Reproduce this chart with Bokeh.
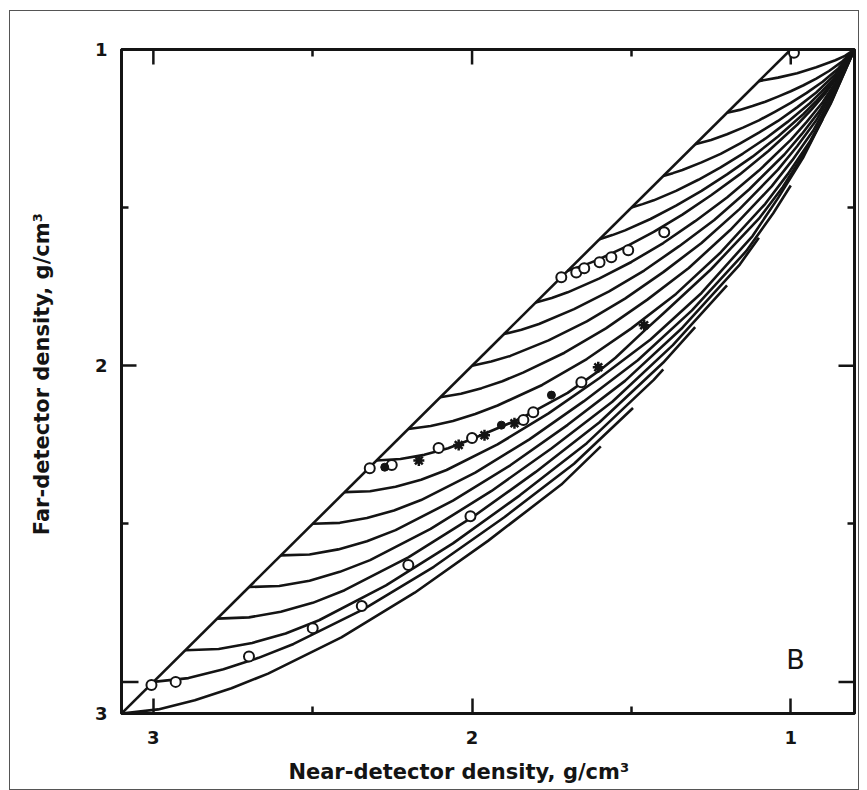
import math
from bokeh.plotting import figure
from bokeh.models import Range1d, LinearAxis, FixedTicker, Label
from bokeh.embed import file_html
from bokeh.resources import INLINE

# ---------------- data: (near-detector density, far-detector density), g/cm3 ----------------
spine_near = [3.1, 1.0]
spine_far = [3.1, 1.0]

# ribs, each starting on the spine at the formation density named in the list name
rib_3_1_near = [3.1, 2.985, 2.87, 2.755, 2.64, 2.41, 2.18, 1.95, 1.72, 1.596]
rib_3_1_far = [3.1, 3.087, 3.058, 3.02, 2.974, 2.859, 2.718, 2.554, 2.376, 2.255]

rib_3_0_near = [3.0, 2.89, 2.78, 2.67, 2.56, 2.34, 2.12, 1.90, 1.68, 1.495]
rib_3_0_far = [3.0, 2.988, 2.96, 2.924, 2.88, 2.77, 2.636, 2.48, 2.31, 2.134]

rib_2_9_near = [2.9, 2.795, 2.69, 2.585, 2.48, 2.27, 2.06, 1.85, 1.64, 1.43, 1.40]
rib_2_9_far = [2.9, 2.896, 2.877, 2.847, 2.805, 2.695, 2.562, 2.41, 2.245, 2.045, 2.012]

rib_2_8_near = [2.8, 2.7, 2.6, 2.5, 2.4, 2.2, 2.0, 1.8, 1.6, 1.4, 1.3]
rib_2_8_far = [2.8, 2.796, 2.778, 2.75, 2.71, 2.606, 2.48, 2.336, 2.179, 1.99, 1.878]

rib_2_7_near = [2.7, 2.605, 2.51, 2.415, 2.32, 2.13, 1.94, 1.75, 1.56, 1.37, 1.2]
rib_2_7_far = [2.7, 2.697, 2.68, 2.652, 2.615, 2.516, 2.397, 2.261, 2.114, 1.935, 1.746]

rib_2_6_near = [2.6, 2.51, 2.42, 2.33, 2.24, 2.06, 1.88, 1.70, 1.52, 1.34, 1.16, 1.1]
rib_2_6_far = [2.6, 2.597, 2.581, 2.555, 2.52, 2.427, 2.315, 2.187, 2.048, 1.88, 1.68, 1.595]

rib_2_5_near = [2.5, 2.415, 2.33, 2.245, 2.16, 1.99, 1.82, 1.65, 1.48, 1.31, 1.14, 1.055, 1.0]
rib_2_5_far = [2.5, 2.497, 2.482, 2.458, 2.425, 2.338, 2.233, 2.113, 1.983, 1.825, 1.638, 1.518, 1.43]

rib_2_4_near = [2.4, 2.32, 2.24, 2.16, 2.08, 1.92, 1.76, 1.60, 1.44, 1.28, 1.12, 1.04, 0.96, 0.9]
rib_2_4_far = [2.4, 2.397, 2.383, 2.361, 2.33, 2.249, 2.151, 2.039, 1.917, 1.77, 1.59, 1.47, 1.34, 1.22]

rib_2_3_near = [2.3, 2.225, 2.15, 2.075, 2.0, 1.85, 1.7, 1.6, 1.55, 1.46, 1.40, 1.25, 1.10,
                1.025, 0.95, 0.875, 0.8]
rib_2_3_far = [2.3, 2.295, 2.282, 2.261, 2.232, 2.168, 2.086, 2.015, 1.975, 1.89, 1.835, 1.695,
               1.535, 1.435, 1.315, 1.172, 1.0]

rib_2_2_near = [2.2, 2.13, 2.06, 1.99, 1.92, 1.78, 1.64, 1.50, 1.36, 1.22, 1.08, 1.01, 0.94, 0.87, 0.8]
rib_2_2_far = [2.2, 2.191, 2.175, 2.153, 2.126, 2.061, 1.979, 1.882, 1.773, 1.642, 1.488, 1.395,
               1.291, 1.159, 1.0]

rib_2_1_near = [2.1, 2.035, 1.97, 1.905, 1.84, 1.71, 1.58, 1.45, 1.32, 1.19, 1.06, 0.995, 0.93, 0.865, 0.8]
rib_2_1_far = [2.1, 2.089, 2.071, 2.049, 2.022, 1.959, 1.882, 1.791, 1.691, 1.571, 1.433, 1.35,
               1.257, 1.14, 1.0]

rib_2_0_near = [2.0, 1.94, 1.88, 1.76, 1.64, 1.52, 1.40, 1.28, 1.16, 1.04, 0.98, 0.92, 0.86, 0.8]
rib_2_0_far = [2.0, 1.987, 1.969, 1.92, 1.86, 1.788, 1.704, 1.612, 1.504, 1.38, 1.306, 1.224, 1.122, 1.0]

rib_1_9_near = [1.9, 1.845, 1.79, 1.68, 1.57, 1.46, 1.35, 1.24, 1.13, 1.02, 0.965, 0.91, 0.855, 0.8]
rib_1_9_far = [1.9, 1.886, 1.868, 1.821, 1.765, 1.699, 1.622, 1.539, 1.442, 1.332, 1.267, 1.195, 1.106, 1.0]

rib_1_8_near = [1.8, 1.75, 1.70, 1.60, 1.50, 1.40, 1.30, 1.20, 1.10, 1.00, 0.95, 0.90, 0.85, 0.8]
rib_1_8_far = [1.8, 1.786, 1.768, 1.724, 1.672, 1.612, 1.543, 1.468, 1.383, 1.286, 1.229, 1.167, 1.09, 1.0]

rib_1_7_near = [1.7, 1.655, 1.61, 1.52, 1.43, 1.34, 1.25, 1.16, 1.07, 0.98, 0.935, 0.89, 0.845, 0.8]
rib_1_7_far = [1.7, 1.685, 1.667, 1.625, 1.577, 1.522, 1.461, 1.395, 1.321, 1.238, 1.19, 1.137, 1.074, 1.0]

rib_1_6_near = [1.6, 1.56, 1.52, 1.44, 1.36, 1.28, 1.20, 1.12, 1.04, 0.96, 0.92, 0.88, 0.84, 0.8]
rib_1_6_far = [1.6, 1.587, 1.572, 1.536, 1.494, 1.447, 1.395, 1.339, 1.275, 1.204, 1.163, 1.118, 1.064, 1.0]

rib_1_5_near = [1.5, 1.465, 1.43, 1.36, 1.29, 1.22, 1.15, 1.08, 1.01, 0.94, 0.905, 0.87, 0.835, 0.8]
rib_1_5_far = [1.5, 1.489, 1.477, 1.447, 1.412, 1.373, 1.329, 1.282, 1.229, 1.17, 1.135, 1.098, 1.053, 1.0]

rib_1_4_near = [1.4, 1.37, 1.34, 1.28, 1.22, 1.16, 1.10, 1.04, 0.98, 0.92, 0.86, 0.8]
rib_1_4_far = [1.4, 1.391, 1.381, 1.357, 1.33, 1.298, 1.263, 1.226, 1.183, 1.136, 1.078, 1.0]

rib_1_3_near = [1.3, 1.25, 1.2, 1.15, 1.10, 1.05, 1.00, 0.95, 0.90, 0.85, 0.8]
rib_1_3_far = [1.3, 1.286, 1.268, 1.247, 1.224, 1.197, 1.169, 1.137, 1.102, 1.059, 1.0]

rib_1_2_near = [1.2, 1.16, 1.12, 1.08, 1.04, 1.0, 0.96, 0.92, 0.88, 0.84, 0.8]
rib_1_2_far = [1.2, 1.191, 1.179, 1.165, 1.149, 1.132, 1.113, 1.092, 1.068, 1.039, 1.0]

rib_1_1_near = [1.1, 1.04, 0.98, 0.92, 0.86, 0.83, 0.8]
rib_1_1_far = [1.1, 1.089, 1.075, 1.056, 1.034, 1.02, 1.0]

# measured points
circ_near = [3.006, 2.93, 2.70, 2.50, 2.346, 2.20, 2.005,
             2.321, 2.252, 2.105, 2.0, 1.839, 1.808, 1.657,
             1.72, 1.673, 1.648, 1.60, 1.563, 1.51, 1.397, 0.99]
circ_far = [3.01, 3.0, 2.92, 2.83, 2.76, 2.63, 2.476,
            2.324, 2.314, 2.26, 2.229, 2.172, 2.147, 2.052,
            1.72, 1.705, 1.692, 1.673, 1.657, 1.635, 1.578, 1.01]
star_near = [2.167, 2.042, 1.961, 1.867, 1.604, 1.46]
star_far = [2.30, 2.251, 2.22, 2.182, 2.005, 1.872]
dot_near = [2.274, 1.908, 1.751]
dot_far = [2.321, 2.188, 2.093]

# axes
x_major = [3, 2, 1]
x_minor = [2.5, 1.5]
y_major = [1, 2, 3]
y_minor = [1.5, 2.5]
y_label_pos = [1, 2, 3.1]
y_label_text = {1: "1", 2: "2", 3.1: "3"}
X0, X1 = 3.1, 0.8
Y0, Y1 = 3.1, 1.0

x_title = "Near-detector density, g/cm\u00b3" + "\u00a0" * 8
y_title = "\u00a0" * 2 + "Far-detector density, g/cm\u00b3"

ribs = [
    (rib_3_1_near, rib_3_1_far), (rib_3_0_near, rib_3_0_far), (rib_2_9_near, rib_2_9_far),
    (rib_2_8_near, rib_2_8_far), (rib_2_7_near, rib_2_7_far), (rib_2_6_near, rib_2_6_far),
    (rib_2_5_near, rib_2_5_far), (rib_2_4_near, rib_2_4_far), (rib_2_3_near, rib_2_3_far),
    (rib_2_2_near, rib_2_2_far), (rib_2_1_near, rib_2_1_far), (rib_2_0_near, rib_2_0_far),
    (rib_1_9_near, rib_1_9_far), (rib_1_8_near, rib_1_8_far), (rib_1_7_near, rib_1_7_far),
    (rib_1_6_near, rib_1_6_far), (rib_1_5_near, rib_1_5_far), (rib_1_4_near, rib_1_4_far),
    (rib_1_3_near, rib_1_3_far), (rib_1_2_near, rib_1_2_far), (rib_1_1_near, rib_1_1_far),
]

INK = "#141414"
FONT = "DejaVu Sans"

p = figure(frame_width=733, frame_height=664,
           x_range=Range1d(X0, X1), y_range=Range1d(Y0, Y1),
           min_border_left=111, min_border_top=38, min_border_right=4, min_border_bottom=76,
           output_backend="svg", toolbar_location=None,
           x_axis_location=None, y_axis_location=None)
p.margin = (10, 0, 0, 9)
p.grid.visible = False
p.outline_line_color = INK
p.outline_line_width = 3
p.background_fill_color = "white"
p.border_fill_color = "white"
p.styles = {"border": "1.5px solid #555"}


def style_axis(ax):
    ax.axis_line_color = INK
    ax.axis_line_width = 3
    ax.major_tick_line_color = INK
    ax.major_tick_line_width = 2.5
    ax.minor_tick_line_color = INK
    ax.minor_tick_line_width = 2.5
    ax.major_tick_in = 15
    ax.major_tick_out = 0
    ax.minor_tick_in = 7
    ax.minor_tick_out = 0
    ax.major_label_text_font = FONT
    ax.major_label_text_font_style = "bold"
    ax.major_label_text_font_size = "18px"
    ax.major_label_text_color = INK
    ax.axis_label_text_font = FONT
    ax.axis_label_text_font_style = "bold"
    ax.axis_label_text_font_size = "21px"
    ax.axis_label_text_color = INK


xb = LinearAxis(ticker=FixedTicker(ticks=x_major, minor_ticks=x_minor), axis_label=x_title)
style_axis(xb)
xb.major_label_standoff = 17
xb.axis_label_standoff = 13
p.add_layout(xb, "below")

xt = LinearAxis(ticker=FixedTicker(ticks=[], minor_ticks=x_minor))
style_axis(xt)
p.add_layout(xt, "above")

yl = LinearAxis(ticker=FixedTicker(ticks=y_label_pos, minor_ticks=y_minor), axis_label=y_title)
style_axis(yl)
yl.major_label_overrides = y_label_text
yl.major_label_standoff = 14
yl.axis_label_standoff = 38
p.add_layout(yl, "left")

yr = LinearAxis(ticker=FixedTicker(ticks=[], minor_ticks=y_minor))
style_axis(yr)
p.add_layout(yr, "right")

# long (whole-unit) inward ticks on top, right and at 3 on the left (dash markers, clipped by the frame)
p.scatter(x_major, [Y1] * len(x_major), marker="dash", size=30, angle=math.pi / 2,
          line_color=INK, line_width=2.5)
p.scatter([X1] * len(y_major), y_major, marker="dash", size=32, line_color=INK, line_width=2.5)
p.scatter([X0], [3], marker="dash", size=34, line_color=INK, line_width=2.5)

p.line(spine_near, spine_far, line_color=INK, line_width=2.6)
for xs, ys in ribs:
    p.line(xs, ys, line_color=INK, line_width=2.6, line_join="round")

p.scatter(circ_near, circ_far, marker="circle", size=10, line_color=INK,
          line_width=2, fill_color="white")
p.scatter(star_near, star_far, marker="asterisk", size=11, line_color=INK, line_width=2.5)
p.scatter(dot_near, dot_far, marker="circle", size=8, line_color=INK, fill_color=INK)

p.add_layout(Label(x=0.985, y=2.93, text="B", text_font=FONT, text_font_size="27px",
                   text_color=INK, text_align="center", text_baseline="middle"))

open("out.html", "w").write(file_html(p, INLINE))
